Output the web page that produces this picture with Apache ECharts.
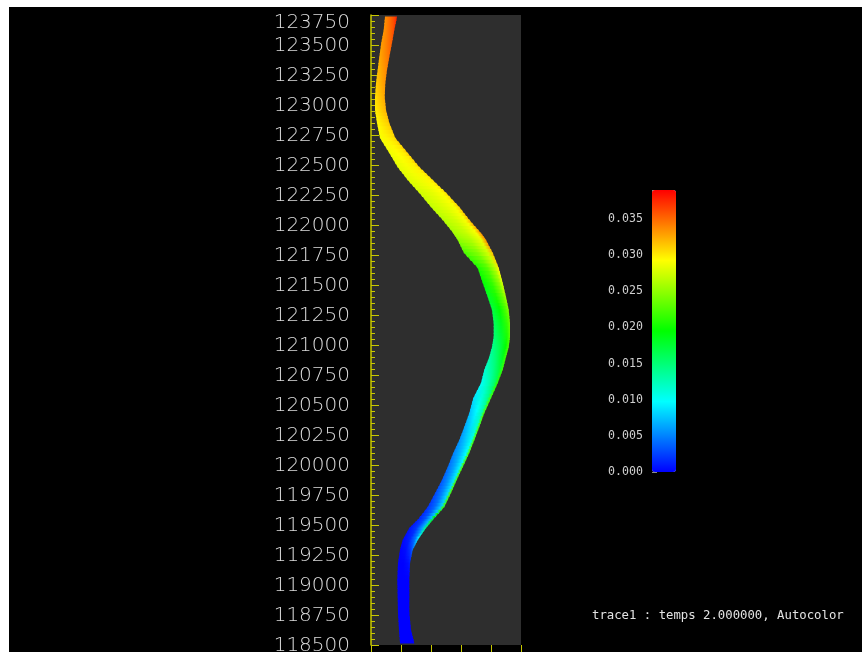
<!DOCTYPE html>
<html>
<head>
<meta charset="utf-8">
<script src="https://cdn.jsdelivr.net/npm/echarts@6/dist/echarts.min.js"></script>
<style>
  html, body { margin: 0; padding: 0; background: #ffffff; }
  #chart { width: 862px; height: 652px; }
</style>
</head>
<body>
<div id="chart"></div>
<script>
// Cross-sections along the channel (axis position) and bank positions
const stations = [123733, 123625, 123517, 123400, 123292, 123183, 123067, 122958, 122850, 122725,
                  122600, 122483, 122375, 122267, 122150, 122042, 121933, 121875, 121767, 121642,
                  121517, 121400, 121292, 121183, 121067, 120983, 120900, 120792, 120683, 120558,
                  120433, 120317, 120208, 120100, 119983, 119875, 119767, 119650, 119542, 119475,
                  119375, 119292, 119183, 119042, 118900, 118767, 118625, 118517];
const leftBank  = [14, 12.7, 10.3, 8.3, 6.7, 5, 4, 4, 6, 9,
                   18.3, 26.7, 36.7, 48.3, 60, 71.7, 82.3, 86.7, 93, 106.7,
                   111.7, 116.7, 121, 122.7, 122.7, 121, 118.3, 113.3, 110, 102.3,
                   98.3, 93.3, 88.3, 82.3, 76.7, 71, 64.3, 56.7, 46.7, 38.3,
                   31.7, 29, 27, 26.3, 26.7, 27, 28, 29];
const rightBank = [26, 23.3, 21, 18.3, 16, 14.3, 13.7, 15, 18.3, 24.3,
                   36.7, 48.3, 61.7, 75, 88.3, 98.3, 110, 115, 121.7, 127.7,
                   131.7, 135, 137.7, 139, 139, 137.7, 135, 131.7, 126.7, 120,
                   113.3, 108.3, 103.3, 98.3, 91.7, 85.7, 80, 73.3, 61.7, 55,
                   46.7, 41.7, 39, 38.3, 38.3, 38.3, 40, 43.3];

// Field values across each section: left bank, middle, inner right, right bank
const valLeft  = [.0335, .0333, .0330, .0325, .0318, .0312, .0305, .0300, .0295, .0290,
                  .0287, .0283, .0280, .0275, .0270, .0265, .0258, .0250, .0225, .0205,
                  .0195, .0180, .0170, .0160, .0150, .0140, .0130, .0115, .0100, .0085,
                  .0072, .0062, .0055, .0048, .0040, .0033, .0026, .0018, .0010, .0005,
                  .0002, 0, 0, 0, 0, 0, 0, 0];
const valMid   = [.0350, .0345, .0340, .0335, .0328, .0322, .0315, .0310, .0303, .0297,
                  .0293, .0290, .0287, .0283, .0280, .0275, .0270, .0263, .0245, .0228,
                  .0215, .0205, .0195, .0185, .0175, .0165, .0155, .0140, .0125, .0110,
                  .0095, .0085, .0078, .0070, .0063, .0057, .0050, .0040, .0030, .0022,
                  .0012, .0005, 0, 0, 0, 0, 0, 0];
const valInner = [.0365, .0355, .0350, .0343, .0335, .0330, .0323, .0318, .0310, .0303,
                  .0300, .0297, .0295, .0292, .0290, .0290, .0290, .0285, .0275, .0265,
                  .0250, .0235, .0225, .0215, .0205, .0195, .0185, .0170, .0155, .0140,
                  .0125, .0115, .0105, .0098, .0092, .0088, .0083, .0078, .0072, .0065,
                  .0045, .0020, .0005, 0, 0, 0, 0, 0];
const valRight = [.0380, .0365, .0355, .0348, .0340, .0333, .0327, .0322, .0315, .0310,
                  .0315, .0310, .0305, .0305, .0310, .0320, .0335, .0340, .0320, .0300,
                  .0280, .0260, .0245, .0235, .0230, .0225, .0220, .0215, .0210, .0220,
                  .0225, .0225, .0225, .0225, .0225, .0225, .0225, .0220, .0190, .0150,
                  .0090, .0040, .0010, 0, 0, 0, 0, 0];

// Axis extents
const yMin = 118500, yMax = 123750, yStep = 250;
const xMin = 0, xMax = 150, xStep = 30;
const scaleMin = 0, scaleMax = 0.039, scaleStep = 0.005;
const caption = 'trace1 : temps 2.000000, Autocolor';

// Rainbow colour ramp used by both the bar and the channel
const rampColors = ['#0000ff', '#00ffff', '#00ff00', '#ffff00', '#ff0000'];
const rampRgb = rampColors.map(h => [parseInt(h.slice(1, 3), 16), parseInt(h.slice(3, 5), 16), parseInt(h.slice(5, 7), 16)]);
function rampColor(v) {
  let f = (v - scaleMin) / (scaleMax - scaleMin);
  f = Math.max(0, Math.min(1, f));
  const pos = f * (rampRgb.length - 1);
  const i = Math.min(rampRgb.length - 2, Math.floor(pos));
  const t = pos - i;
  const a = rampRgb[i], b = rampRgb[i + 1];
  const c = a.map((x, k) => Math.round(x + (b[k] - x) * t));
  return 'rgb(' + c.join(',') + ')';
}

const lerp = (a, b, t) => a + (b - a) * t;
const SUB = 4; // sub-slices per section pair for a smooth fill

function renderReach(params, api) {
  const i = params.dataIndex;
  const j = i + 1;
  const children = [];
  for (let k = 0; k < SUB; k++) {
    const t0 = k / SUB, t1 = (k + 1) / SUB, tm = (t0 + t1) / 2;
    const y0 = lerp(stations[i], stations[j], t0);
    const y1 = lerp(stations[i], stations[j], t1);
    const pL0 = api.coord([lerp(leftBank[i], leftBank[j], t0), y0]);
    const pR0 = api.coord([lerp(rightBank[i], rightBank[j], t0), y0]);
    const pL1 = api.coord([lerp(leftBank[i], leftBank[j], t1), y1]);
    const pR1 = api.coord([lerp(rightBank[i], rightBank[j], t1), y1]);
    // small overlap so neighbouring slices leave no seam
    const dy = pL1[1] > pL0[1] ? 0.6 : -0.6;
    const pts = [[pL0[0], pL0[1] - dy], [pR0[0], pR0[1] - dy], [pR1[0], pR1[1] + dy], [pL1[0], pL1[1] + dy]];
    const xl = (pL0[0] + pL1[0]) / 2, xr = (pR0[0] + pR1[0]) / 2, ym = (pL0[1] + pL1[1]) / 2;
    const stops = [
      { offset: 0, color: rampColor(lerp(valLeft[i], valLeft[j], tm)) },
      { offset: 0.45, color: rampColor(lerp(valMid[i], valMid[j], tm)) },
      { offset: 0.82, color: rampColor(lerp(valInner[i], valInner[j], tm)) },
      { offset: 1, color: rampColor(lerp(valRight[i], valRight[j], tm)) }
    ];
    children.push({
      type: 'polygon',
      shape: { points: pts },
      style: { fill: new echarts.graphic.LinearGradient(xl, ym, xr, ym, stops, true) }
    });
  }
  return { type: 'group', children: children };
}

const reachData = stations.slice(0, -1).map((s, i) => [leftBank[i], s, i]);

const yellow = '#c8c800';
const labelFont = { color: '#dcdcdc', fontFamily: 'DejaVu Sans', fontWeight: 200, fontSize: 20 };
const chart = echarts.init(document.getElementById('chart'), null, { renderer: 'canvas' });
chart.setOption({
  backgroundColor: '#000000',
  animation: false,
  grid: [
    { left: 371, top: 15, width: 150, height: 630, show: true, backgroundColor: '#2e2e2e', borderWidth: 0, outerBoundsMode: 'none' },
    { left: 652, top: 190, width: 24, height: 282, show: false, outerBoundsMode: 'none' }
  ],
  xAxis: [
    {
      type: 'value', gridIndex: 0, min: xMin, max: xMax, interval: xStep,
      axisLine: { show: false },
      axisTick: { show: true, length: 7, lineStyle: { color: yellow, width: 1 } },
      axisLabel: { show: false },
      splitLine: { show: false }
    },
    { type: 'value', gridIndex: 1, min: 0, max: 1, show: false }
  ],
  yAxis: [
    {
      type: 'value', gridIndex: 0, min: yMin, max: yMax, interval: yStep,
      axisLine: { show: true, lineStyle: { color: yellow, width: 1.5 } },
      axisTick: { show: true, inside: true, length: 8, lineStyle: { color: yellow, width: 1 } },
      minorTick: { show: true, splitNumber: 5, length: 4, lineStyle: { color: yellow, width: 1 } },
      splitLine: { show: false },
      axisLabel: Object.assign({
        margin: 21, padding: [2, 0, 0, 0],
        formatter: v => v === yMax ? '{top|' + v + '}' : String(v),
        rich: { top: Object.assign({ padding: [14, 0, 0, 0] }, labelFont) }
      }, labelFont)
    },
    {
      type: 'value', gridIndex: 1, min: scaleMin, max: scaleMax, interval: scaleStep,
      axisLine: { show: false },
      axisTick: { show: true, inside: true, length: 5, lineStyle: { color: '#8a8a8a', width: 1 } },
      minorTick: { show: true, splitNumber: 5, length: 3, lineStyle: { color: '#8a8a8a', width: 1 } },
      splitLine: { show: false },
      axisLabel: {
        margin: 9, color: '#cfcfcf', fontFamily: 'DejaVu Sans Mono', fontSize: 11.6,
        showMaxLabel: false,
        formatter: v => v.toFixed(3)
      }
    }
  ],
  visualMap: {
    type: 'continuous', min: scaleMin, max: scaleMax, dimension: 2, seriesIndex: 0,
    left: 652, top: 190, itemWidth: 24, itemHeight: 282, padding: 0,
    calculable: false, hoverLink: false, realtime: false, text: null, showLabel: false,
    inRange: { color: rampColors }
  },
  series: [
    {
      type: 'custom', name: 'reach', xAxisIndex: 0, yAxisIndex: 0,
      renderItem: renderReach,
      data: reachData,
      encode: { x: 0, y: 1 },
      silent: true,
      z: 3
    }
  ],
  graphic: [
    { type: 'rect', left: 0, top: 0, shape: { width: 862, height: 7 }, style: { fill: '#ffffff' }, z: 100 },
    { type: 'rect', left: 0, top: 0, shape: { width: 9, height: 652 }, style: { fill: '#ffffff' }, z: 100 },
    {
      type: 'text', left: 592, top: 610, z: 100,
      style: { text: caption, fill: '#e2e2e2', font: '12.3px "DejaVu Sans Mono"' }
    }
  ]
});
</script>
</body>
</html>
